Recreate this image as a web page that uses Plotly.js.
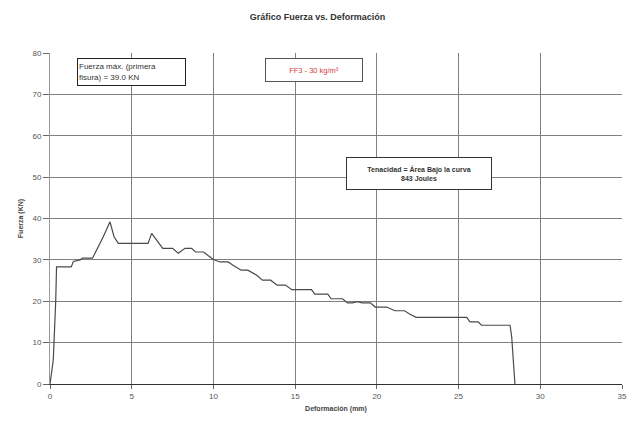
<!DOCTYPE html>
<html>
<head>
<meta charset="utf-8">
<script src="https://cdn.plot.ly/plotly-3.0.1.min.js"></script>
<style>html,body{margin:0;padding:0;background:#fff;}#chart{width:635px;height:425px;}</style>
</head>
<body>
<div id="chart"></div>
<script>
const deformacion = [0,0.2,0.35,0.4,1.3,1.43,1.84,2.0,2.6,2.86,3.26,3.67,3.92,4.18,6.0,6.22,6.5,6.9,7.5,7.85,8.26,8.67,8.9,9.4,9.69,10.0,10.4,10.9,11.2,11.7,12.1,12.65,13.0,13.5,13.9,14.4,14.8,16.0,16.2,17.0,17.2,17.9,18.2,18.5,18.8,19.1,19.6,19.9,20.6,21.1,21.7,22.0,22.4,25.5,25.7,26.2,26.4,28.15,28.25,28.45];
const fuerza = [0,5.8,20,28.3,28.3,29.6,30,30.4,30.4,32.4,35.6,39.2,35.6,34,34,36.4,34.8,32.8,32.8,31.6,32.8,32.8,31.9,31.9,31,30.1,29.5,29.5,28.7,27.5,27.5,26.3,25.1,25.1,23.9,23.9,22.8,22.8,21.7,21.7,20.6,20.6,19.6,19.6,19.9,19.6,19.6,18.6,18.6,17.7,17.7,16.9,16.1,16.1,15.0,15.0,14.2,14.2,11.4,0];
const xTicks = [0,5,10,15,20,25,30,35];
const yTicks = [0,10,20,30,40,50,60,70,80];

const font = "Liberation Sans, Arial, sans-serif";
const trace = {
  x: deformacion, y: fuerza, type: 'scatter', mode: 'lines',
  line: {color: '#4a4a4a', width: 1.2}, hoverinfo: 'skip'
};
const layout = {
  width: 635, height: 425,
  margin: {l: 50, r: 13, t: 53, b: 41},
  paper_bgcolor: '#fff', plot_bgcolor: '#fff',
  showlegend: false,
  font: {family: font, size: 8, color: '#444'},
  title: {text: '<b>Gráfico Fuerza vs. Deformación</b>', x: 0.5, xanchor: 'center', y: 0.96, yanchor: 'middle', font: {family: font, size: 9, color: '#333'}},
  xaxis: {
    range: [0, 35], tickvals: xTicks, ticktext: xTicks.map(String),
    showgrid: true, gridcolor: '#808080', gridwidth: 1,
    showline: true, linecolor: '#333', linewidth: 1,
    ticks: 'outside', ticklen: 4, tickcolor: '#666', zeroline: false,
    tickfont: {size: 8, color: '#555'},
    title: {text: '<b>Deformación (mm)</b>', font: {size: 7, color: '#444'}, standoff: 6}
  },
  yaxis: {
    range: [0, 80], tickvals: yTicks, ticktext: yTicks.map(String),
    showgrid: true, gridcolor: '#808080', gridwidth: 1,
    showline: true, linecolor: '#999', linewidth: 1,
    ticks: 'outside', ticklen: 6, tickcolor: '#666', zeroline: false,
    tickfont: {size: 8, color: '#555'},
    title: {text: '<b>Fuerza (KN)</b>', font: {size: 7, color: '#444'}, standoff: 8}
  },
  annotations: [
    {xref: 'x', yref: 'y', x: 4.96, y: 75.4, showarrow: false, align: 'left',
     text: 'Fuerza máx. (primera<br>fisura) = 39.0 KN', font: {size: 8, color: '#333'},
     bordercolor: '#222', borderwidth: 1, bgcolor: '#fff', width: 105, height: 24, borderpad: 1},
    {xref: 'x', yref: 'y', x: 16.16, y: 75.8, showarrow: false,
     text: 'FF3 - 30 kg/m³', font: {size: 7.5, color: '#d04040'},
     bordercolor: '#555', borderwidth: 1, bgcolor: '#fff', width: 94, height: 20, borderpad: 1},
    {xref: 'x', yref: 'y', x: 22.6, y: 50.8, showarrow: false,
     text: '<b>Tenacidad = Área Bajo la curva<br>843 Joules</b>', font: {size: 7, color: '#333'},
     bordercolor: '#333', borderwidth: 1, bgcolor: '#fff', width: 142, height: 29, borderpad: 1}
  ]
};
Plotly.newPlot('chart', [trace], layout, {staticPlot: true, displayModeBar: false});
</script>
</body>
</html>
